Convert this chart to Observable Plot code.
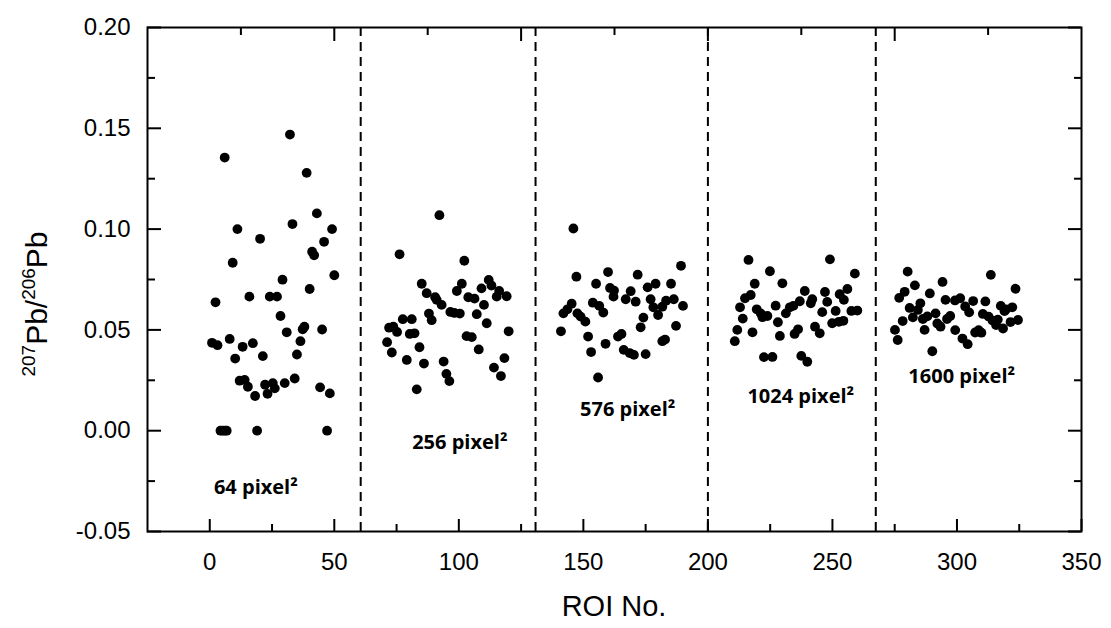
<!DOCTYPE html>
<html><head><meta charset="utf-8">
<script src="https://cdn.jsdelivr.net/npm/d3@7"></script>
<script src="https://cdn.jsdelivr.net/npm/@observablehq/plot@0.6"></script>
<style>
body{margin:0;background:#fff;}
#chart{width:1111px;height:628px;}
</style>
</head><body><div id="chart"></div>
<script>
// ROI number, 207Pb/206Pb ratio
const roi64 = [[6.0,0.1355],[32.2,0.1469],[38.9,0.1279],[43.0,0.1078],[33.2,0.1025],[11.1,0.1000],[49.1,0.1000],[20.2,0.0952],[45.9,0.0937],[41.1,0.0888],[41.9,0.0870],[9.2,0.0833],[50.0,0.0771],[29.2,0.0749],[40.1,0.0703],[2.3,0.0637],[15.9,0.0665],[24.1,0.0665],[27.0,0.0665],[28.4,0.0569],[38.0,0.0516],[37.3,0.0503],[45.1,0.0502],[30.9,0.0488],[0.9,0.0436],[3.1,0.0424],[8.0,0.0455],[13.2,0.0416],[17.3,0.0434],[36.4,0.0444],[10.2,0.0358],[21.3,0.0370],[35.0,0.0378],[12.0,0.0248],[14.0,0.0252],[15.3,0.0218],[18.2,0.0172],[22.2,0.0228],[25.3,0.0236],[23.2,0.0183],[26.1,0.0210],[30.1,0.0236],[34.1,0.0259],[44.3,0.0215],[48.2,0.0185],[4.3,0],[5.2,0],[6.1,0],[6.8,0],[19.0,0],[47.1,0]];
const roi256 = [[92.2,0.1069],[76.2,0.0875],[102.2,0.0843],[85.1,0.0729],[87.1,0.0682],[90.5,0.0662],[91.1,0.0649],[93.1,0.0624],[101.2,0.0729],[99.2,0.0693],[103.8,0.0662],[106.3,0.0655],[109.1,0.0706],[112.0,0.0748],[113.1,0.0720],[116.2,0.0693],[115.2,0.0665],[119.2,0.0667],[110.1,0.0624],[88.0,0.0581],[89.1,0.0548],[96.6,0.0589],[98.2,0.0584],[100.4,0.0581],[107.2,0.0578],[111.2,0.0533],[77.5,0.0553],[81.1,0.0553],[72.0,0.0511],[73.7,0.0516],[75.2,0.0490],[80.3,0.0480],[82.2,0.0483],[120.0,0.0493],[103.1,0.0469],[105.2,0.0464],[71.2,0.0439],[84.2,0.0414],[73.1,0.0388],[108.0,0.0403],[79.1,0.0351],[86.0,0.0333],[93.9,0.0343],[118.3,0.0360],[114.1,0.0313],[95.0,0.0282],[96.2,0.0246],[116.9,0.0271],[83.1,0.0205]];
const roi576 = [[146.0,0.1003],[189.2,0.0818],[147.2,0.0764],[159.9,0.0787],[171.8,0.0774],[155.1,0.0729],[160.7,0.0708],[162.3,0.0695],[162.1,0.0665],[169.0,0.0692],[167.0,0.0652],[171.0,0.0640],[175.8,0.0711],[179.0,0.0729],[185.2,0.0729],[177.0,0.0652],[178.1,0.0612],[180.0,0.0574],[181.7,0.0615],[183.2,0.0645],[186.3,0.0652],[190.0,0.0619],[174.1,0.0561],[173.0,0.0513],[187.2,0.0520],[182.8,0.0452],[181.7,0.0444],[145.3,0.0630],[143.6,0.0602],[142.0,0.0582],[147.6,0.0582],[148.9,0.0566],[150.8,0.0541],[153.8,0.0635],[156.4,0.0619],[158.0,0.0586],[141.0,0.0493],[151.9,0.0467],[158.9,0.0431],[163.9,0.0467],[165.3,0.0480],[153.1,0.0390],[166.2,0.0401],[168.6,0.0385],[170.3,0.0376],[175.0,0.0380],[155.9,0.0264]];
const roi1024 = [[216.3,0.0847],[249.0,0.0850],[224.9,0.0791],[259.0,0.0779],[218.8,0.0729],[229.9,0.0731],[217.2,0.0673],[214.9,0.0657],[212.9,0.0612],[238.9,0.0693],[247.0,0.0688],[256.0,0.0703],[252.9,0.0677],[254.6,0.0649],[241.9,0.0652],[241.3,0.0632],[247.9,0.0639],[236.9,0.0642],[227.2,0.0620],[219.6,0.0602],[221.2,0.0582],[223.9,0.0569],[221.9,0.0563],[214.0,0.0556],[232.9,0.0612],[231.3,0.0582],[234.3,0.0619],[245.9,0.0588],[251.3,0.0594],[257.6,0.0594],[260.0,0.0596],[228.1,0.0538],[211.8,0.0500],[217.9,0.0488],[210.8,0.0444],[228.9,0.0470],[236.2,0.0503],[234.8,0.0480],[243.0,0.0516],[244.9,0.0483],[249.9,0.0533],[254.4,0.0545],[252.6,0.0540],[222.5,0.0365],[225.9,0.0366],[237.5,0.0371],[239.9,0.0342]];
const roi1600 = [[280.2,0.0789],[313.6,0.0773],[294.2,0.0738],[283.1,0.0721],[323.5,0.0704],[279.0,0.0689],[276.8,0.0659],[289.1,0.0681],[295.4,0.0649],[299.2,0.0646],[301.3,0.0657],[306.5,0.0643],[311.4,0.0641],[285.3,0.0632],[281.0,0.0609],[284.3,0.0599],[303.3,0.0616],[304.9,0.0587],[317.6,0.0619],[319.7,0.0602],[322.2,0.0612],[319.1,0.0593],[291.4,0.0582],[288.1,0.0567],[286.3,0.0554],[282.3,0.0562],[297.3,0.0569],[296.0,0.0554],[310.4,0.0579],[312.7,0.0566],[314.3,0.0546],[316.4,0.0551],[315.7,0.0524],[318.5,0.0507],[321.5,0.0539],[324.5,0.0549],[278.2,0.0544],[292.1,0.0532],[293.4,0.0516],[287.0,0.0500],[275.1,0.0500],[276.2,0.0450],[299.3,0.0499],[307.3,0.0487],[308.7,0.0499],[309.8,0.0486],[302.2,0.0457],[304.3,0.0429],[290.1,0.0394]];

const groupNames = ["64 pixel²","256 pixel²","576 pixel²","1024 pixel²","1600 pixel²"];
const groupLabelX = [18.5, 100.4, 167.8, 237.3, 301.9];
const groupLabelY = [-0.0282, -0.0059, 0.0104, 0.0168, 0.0267];
const dividers = [60.6, 130.8, 200, 267.4];

const xTickValues = [0,50,100,150,200,250,300,350];
const xMinorTicks = [25,75,125,175,225,275,325];
const topMajorTicks = [50,125,200,275];
const topMinorTicks = [12.5,87.5,162.5,237.5,312.5];
const yTickValues = [-0.05,0,0.05,0.10,0.15,0.20];
const yMinorTicks = [-0.025,0.025,0.075,0.125,0.175];

const series = [roi64, roi256, roi576, roi1024, roi1600];
const points = series.flatMap((s, i) => s.map(([roi, ratio]) => ({roi, ratio, group: groupNames[i]})));
const labels = groupNames.map((t, i) => ({text: t, x: groupLabelX[i], y: groupLabelY[i]}));

const W = 1111, H = 628, mL = 147, mR = 30, mT = 27, mB = 97;
const iw = W - mL - mR, ih = H - mT - mB;

const chart = Plot.plot({
  width: W, height: H,
  marginLeft: mL, marginRight: mR, marginTop: mT, marginBottom: mB,
  style: {fontFamily: "'Liberation Sans', Arial, sans-serif", fontSize: "24px", background: "#fff", color: "#000"},
  x: {domain: [-25, 350]},
  y: {domain: [-0.05, 0.20]},
  marks: [
    Plot.ruleX(dividers, {x: d => d, stroke: "#000", strokeWidth: 2, strokeDasharray: "9,6"}),
    Plot.dot(points, {x: "roi", y: "ratio", r: 4.9, fill: "#000", stroke: "none"}),
    Plot.text(labels, {x: "x", y: "y", text: "text", fontFamily: "'Open Sans', sans-serif", fontWeight: "bold", fontSize: 20, fill: "#000"}),
    // inward ticks
    Plot.tickX(xTickValues, {x: d => d, insetTop: ih - 12, stroke: "#000", strokeWidth: 2}),
    Plot.tickX(xMinorTicks, {x: d => d, insetTop: ih - 7, stroke: "#000", strokeWidth: 2}),
    Plot.tickX(topMajorTicks, {x: d => d, insetBottom: ih - 14, stroke: "#000", strokeWidth: 2}),
    Plot.tickX(topMinorTicks, {x: d => d, insetBottom: ih - 8, stroke: "#000", strokeWidth: 2}),
    Plot.tickY(yTickValues, {y: d => d, insetRight: iw - 14, stroke: "#000", strokeWidth: 2}),
    Plot.tickY(yMinorTicks, {y: d => d, insetRight: iw - 8, stroke: "#000", strokeWidth: 2}),
    Plot.tickY(yTickValues, {y: d => d, insetLeft: iw - 13, stroke: "#000", strokeWidth: 2}),
    Plot.tickY(yMinorTicks, {y: d => d, insetLeft: iw - 7, stroke: "#000", strokeWidth: 2}),
    Plot.axisX({ticks: xTickValues, tickSize: 0, tickPadding: 21, tickFormat: d => String(d), label: null, fontSize: 24, fill: "#000"}),
    Plot.axisY({ticks: yTickValues, tickSize: 0, tickPadding: 17, tickFormat: d => d.toFixed(2), label: null, fontSize: 24, fill: "#000"}),
    Plot.frame({stroke: "#000", strokeWidth: 2})
  ]
});
document.getElementById("chart").appendChild(chart);

const svg = d3.select(chart);
// x axis title
svg.append("text")
  .attr("x", mL + iw / 2).attr("y", 616)
  .attr("text-anchor", "middle")
  .attr("font-family", "'Liberation Sans', Arial, sans-serif")
  .attr("font-size", 29).attr("fill", "#000")
  .text("ROI No.");
// y axis title with superscripts
const yt = svg.append("text")
  .attr("transform", "translate(47,304) rotate(-90)")
  .attr("text-anchor", "middle")
  .attr("font-family", "'Liberation Sans', Arial, sans-serif")
  .attr("font-size", 30).attr("fill", "#000");
yt.append("tspan").attr("font-size", 19).attr("dy", -12).text("207");
yt.append("tspan").attr("dy", 12).text("Pb/");
yt.append("tspan").attr("font-size", 19).attr("dy", -12).text("206");
yt.append("tspan").attr("dy", 12).text("Pb");
</script>
</body></html>
